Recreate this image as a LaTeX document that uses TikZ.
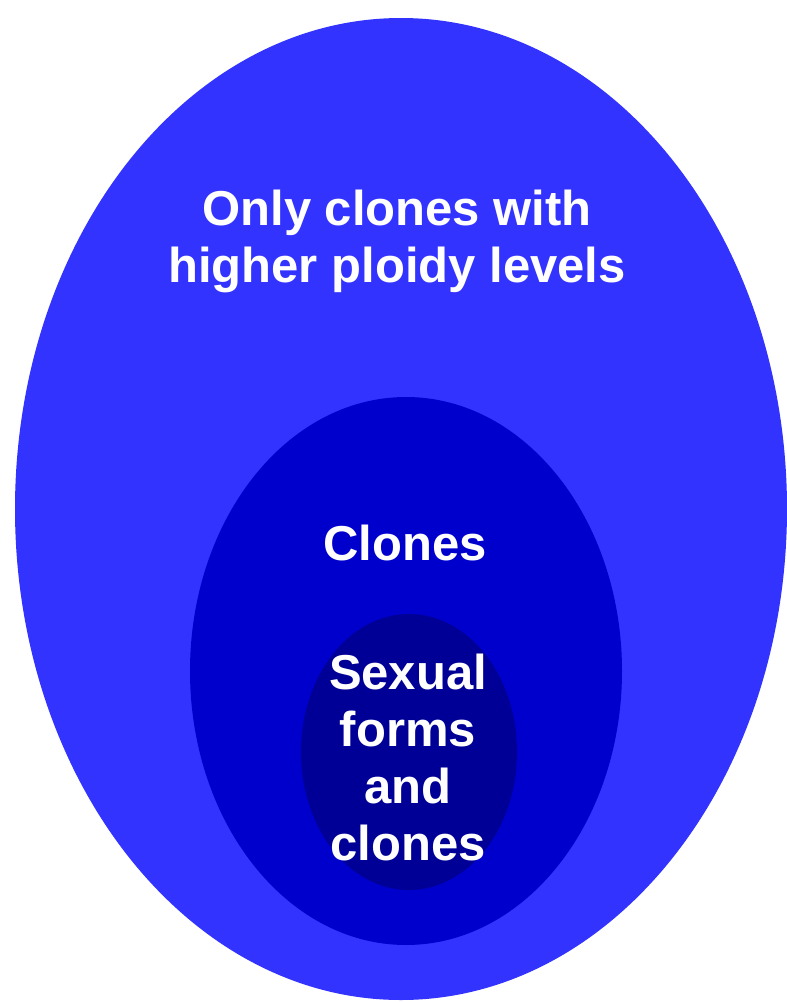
\documentclass[tikz,border=0pt]{standalone}
\usepackage{fontspec}
\setmainfont{Liberation Sans}
\usetikzlibrary{shapes.geometric}
\definecolor{outerblue}{HTML}{3333FF}
\definecolor{midblue}{HTML}{0000CC}
\definecolor{innerblue}{HTML}{000096}
\tikzset{
  region/.style = {shape=ellipse, inner sep=0pt, draw=none},
  label/.style  = {text=white, align=center, inner sep=0pt,
                   font=\fontsize{49pt}{57pt}\selectfont\bfseries}
}
\begin{document}
\begin{tikzpicture}[x=1pt, y=-1pt]
  \useasboundingbox (0,0) rectangle (787,1002);

  % nested sets
  \node [region, fill=outerblue, minimum width=772pt, minimum height=982pt] (outer)  at (401,509) {};
  \node [region, fill=midblue,   minimum width=432pt, minimum height=548pt] (middle) at (406,671) {};
  \node [region, fill=innerblue, minimum width=216pt, minimum height=276pt] (inner)  at (409,752) {};

  % labels
  \node [label] (outerlabel)  at (397,241) {Only clones with\\higher ploidy levels};
  \node [label] (middlelabel) at (405,543) {Clones};
  \node [label] (innerlabel)  at (408,757) {Sexual\\forms\\and\\clones};
\end{tikzpicture}
\end{document}
